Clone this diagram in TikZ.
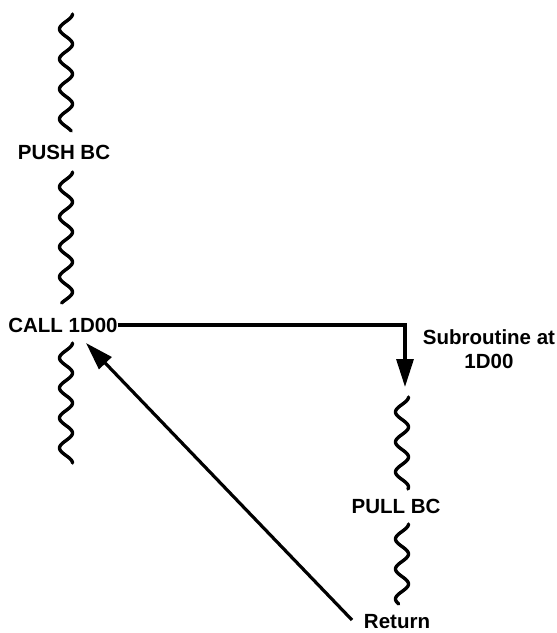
\documentclass[tikz,border=0pt]{standalone}
\usepackage{fontspec}
\setmainfont{Liberation Sans}
\usetikzlibrary{arrows.meta}
\newcommand\wavyline[3]{%
  \draw[squig] plot[domain=0:#3-#2, samples=120, smooth]
    ({#1+6.5*cos(12*\x)}, {#2+\x});}
\begin{document}
\begin{tikzpicture}[x=1pt,y=-1pt,
  squig/.style={line width=3.4pt, line cap=round},
  lbl/.style={font=\bfseries\fontsize{20.5}{23.5}\selectfont, inner sep=0pt},
  conn/.style={line width=3.2pt, -{Triangle[length=28pt,width=17pt]}}]
\useasboundingbox (0,0) rectangle (557,633);
% left column
\node[lbl] (push) at (64,152) {PUSH BC};
\node[lbl] (call) at (63,325) {CALL 1D00};
% right column
\node[lbl, align=center] (sub) at (489,349) {Subroutine at\\1D00};
\coordinate (subtop) at (405,387);
\node[lbl] (pull) at (396,506) {PULL BC};
\node[lbl] (ret) at (397,622) {Return};
\coordinate (rettail) at (352,620);
\coordinate (back) at (86,343);
% squiggles
\wavyline{66}{14}{131}
\wavyline{66}{172}{303}
\wavyline{66}{343}{463}
\wavyline{402}{397}{489}
\wavyline{402}{524}{604}
% connectors
\draw[conn] (call.east) -| (subtop);
\draw[conn] (rettail) -- (back);
\end{tikzpicture}
\end{document}
